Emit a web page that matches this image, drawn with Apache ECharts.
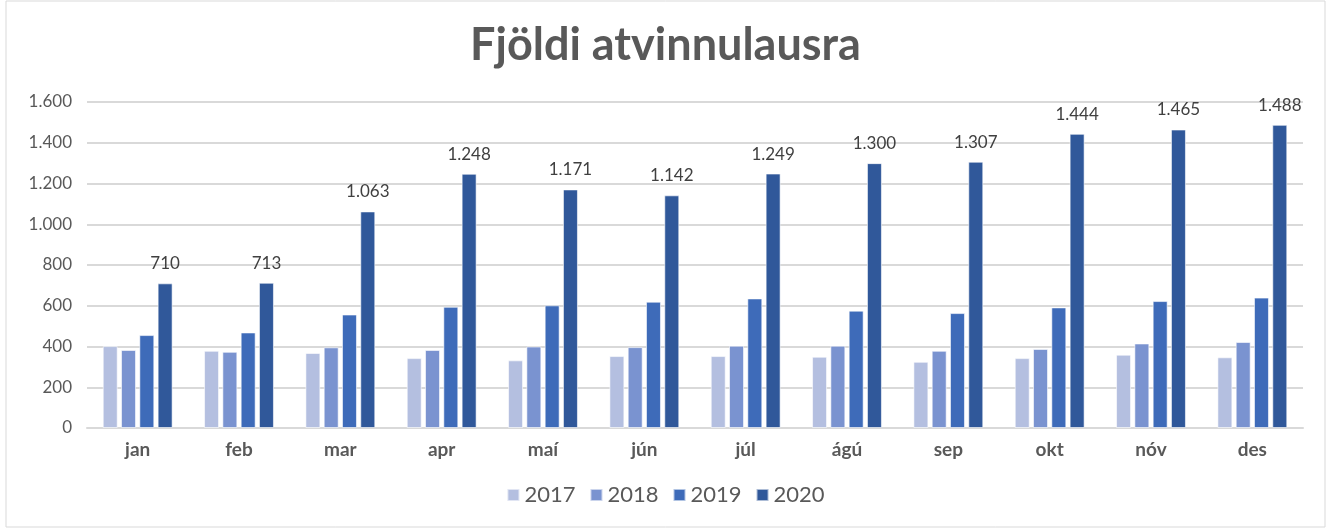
<!DOCTYPE html>
<html>
<head>
<meta charset="utf-8">
<script src="https://cdn.jsdelivr.net/npm/echarts@6/dist/echarts.min.js"></script>
<style>
  html, body { margin: 0; padding: 0; background: #fff; }
  #main { width: 1331px; height: 529px; }
</style>
</head>
<body>
<div id="main"></div>
<script>
// gögn lesin af myndinni
var months = ['jan', 'feb', 'mar', 'apr', 'maí', 'jún', 'júl', 'ágú', 'sep', 'okt', 'nóv', 'des'];
var y2017 = [402, 379, 368, 343, 332, 353, 353, 350, 325, 343, 360, 347];
var y2018 = [383, 374, 396, 383, 400, 397, 404, 404, 379, 388, 415, 422];
var y2019 = [456, 469, 557, 595, 602, 620, 636, 576, 564, 592, 623, 640];
var y2020 = [710, 713, 1063, 1248, 1171, 1142, 1249, 1300, 1307, 1444, 1465, 1488];
var yearNames = ['2017', '2018', '2019', '2020'];
var colors = ['#b4bfe0', '#7a93d0', '#3e6bb9', '#30589a'];

function fmt(v) {
  // punktur sem þúsundaskil
  return String(v).replace(/\B(?=(\d{3})+(?!\d))/g, '.');
}

var font = 'Lato, "DejaVu Sans", sans-serif';
var allData = [y2017, y2018, y2019, y2020];

var series = allData.map(function (d, i) {
  var s = {
    name: yearNames[i],
    type: 'bar',
    data: d,
    barWidth: 15,
    barGap: '22%',
    itemStyle: { color: colors[i], borderColor: 'rgba(255,255,255,0.6)', borderWidth: 1 }
  };
  if (i === 3) {
    s.label = {
      show: true,
      position: 'top',
      distance: 11,
      color: '#404040',
      fontFamily: font,
      fontSize: 17,
      formatter: function (p) { return fmt(p.value); }
    };
  }
  return s;
});

var myChart = echarts.init(document.getElementById('main'));
myChart.setOption({
  animation: false,
  color: colors,
  graphic: [{
    type: 'rect',
    shape: { x: 6, y: 1, width: 1319, height: 526 },
    style: { fill: 'none', stroke: '#d9d9d9', lineWidth: 1 }
  }],
  title: {
    text: 'Fjöldi atvinnulausra',
    left: 'center',
    top: 18,
    textStyle: { fontFamily: font, fontWeight: 'bold', fontSize: 45, color: '#595959' }
  },
  legend: {
    bottom: 18,
    left: 'center',
    itemWidth: 12,
    itemHeight: 12,
    itemGap: 14,
    icon: 'rect',
    textStyle: { fontFamily: font, fontSize: 22, color: '#595959' },
    data: yearNames
  },
  grid: { left: 87, right: 28, top: 102, bottom: 101 },
  xAxis: {
    type: 'category',
    data: months,
    axisLine: { lineStyle: { color: '#d9d9d9', width: 2 } },
    axisTick: { show: false },
    axisLabel: { fontFamily: font, fontWeight: 'bold', fontSize: 19, color: '#595959', margin: 12 }
  },
  yAxis: {
    type: 'value',
    min: 0,
    max: 1600,
    interval: 200,
    axisLine: { show: false },
    axisTick: { show: false },
    splitLine: { lineStyle: { color: '#d9d9d9', width: 2 } },
    axisLabel: {
      fontFamily: font, fontSize: 17, color: '#595959', margin: 15,
      formatter: function (v) { return fmt(v); }
    }
  },
  series: series
});
</script>
</body>
</html>
